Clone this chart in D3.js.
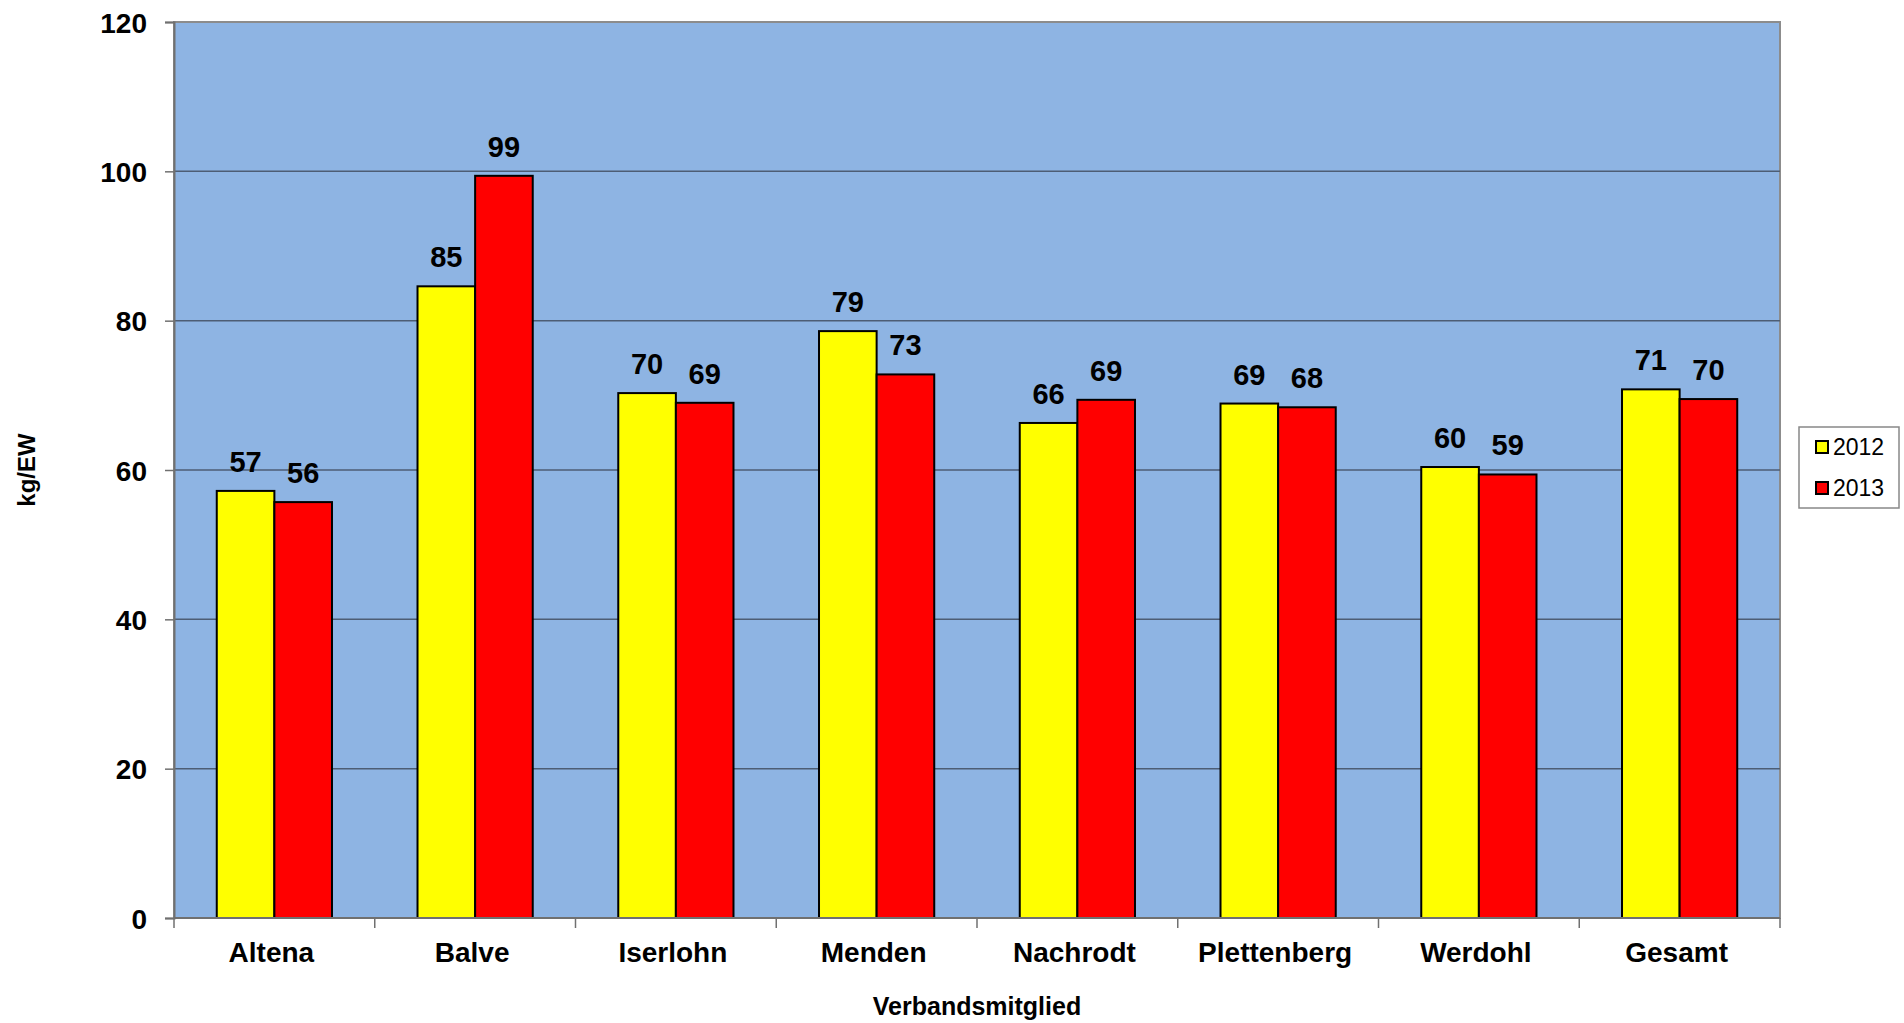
<!DOCTYPE html>
<meta charset="utf-8">
<style>
body { margin: 0; background: #fff; }
.chart text { font-family: "Liberation Sans", Arial, sans-serif; fill: #000; }
.axis text { font-size: 28px; font-weight: bold; }
</style>
<svg class="chart"></svg>
<script src="https://d3js.org/d3.v7.min.js"></script>
<script>

var categories = ["Altena", "Balve", "Iserlohn", "Menden", "Nachrodt", "Plettenberg", "Werdohl", "Gesamt"];
var series = ["2012", "2013"];
var values2012 = [57.2, 84.6, 70.3, 78.6, 66.3, 68.9, 60.4, 70.8];
var values2013 = [55.7, 99.4, 69.0, 72.8, 69.4, 68.4, 59.4, 69.5];
var yTicks = [0, 20, 40, 60, 80, 100, 120];
var colors = ["#FFFF00", "#FF0000"];

var W = 1904, H = 1023;
var margin = {top: 22, right: 124, bottom: 105, left: 174},
    width = W - margin.left - margin.right,
    height = H - margin.top - margin.bottom;

var svg = d3.select(".chart")
	.attr("width", W)
	.attr("height", H)

var chart = svg.append("g")
	.attr("transform", "translate(" + margin.left + "," + margin.top + ")")

var x = d3.scaleBand()
	.domain(categories)
	.range([0, width])

var x1 = d3.scaleBand()
	.domain(series)
	.range([x.bandwidth() * 0.213, x.bandwidth() * 0.787])

var y = d3.scaleLinear()
	.domain([0, 120])
	.range([height, 0])

// plot area
chart.append("rect")
	.attr("width", width)
	.attr("height", height)
	.attr("fill", "#8EB4E3")
	.attr("stroke", "#8c8c8c")
	.attr("stroke-width", 2)

// gridlines
chart.selectAll(".grid")
	.data(yTicks.slice(1, -1))
  .enter().append("line")
	.attr("x1", 0).attr("x2", width)
	.attr("y1", function(d) { return y(d); })
	.attr("y2", function(d) { return y(d); })
	.attr("stroke", "#4d5d74")
	.attr("stroke-width", 1.5)

var rows = categories.map(function(c, i) {
	return {cat: c, vals: [values2012[i], values2013[i]]};
});

var groups = chart.selectAll(".grp")
	.data(rows)
  .enter().append("g")
	.attr("transform", function(d) { return "translate(" + x(d.cat) + ",0)"; })

groups.selectAll("rect")
	.data(function(d) { return d.vals.map(function(v, j) { return {s: series[j], v: v, c: colors[j]}; }); })
  .enter().append("rect")
	.attr("x", function(d) { return x1(d.s); })
	.attr("width", x1.bandwidth())
	.attr("y", function(d) { return y(d.v); })
	.attr("height", function(d) { return height - y(d.v); })
	.attr("fill", function(d) { return d.c; })
	.attr("stroke", "#000")
	.attr("stroke-width", 2)

groups.selectAll(".lbl")
	.data(function(d) { return d.vals.map(function(v, j) { return {s: series[j], v: v}; }); })
  .enter().append("text")
	.attr("x", function(d) { return x1(d.s) + x1.bandwidth() / 2; })
	.attr("y", function(d) { return y(d.v) - 19; })
	.attr("text-anchor", "middle")
	.style("font-size", "29px")
	.style("font-weight", "bold")
	.text(function(d) { return Math.round(d.v); })

// axes
var yAxis = d3.axisLeft(y).tickValues(yTicks).tickSize(9).tickPadding(18);
chart.append("g")
	.attr("class", "y axis")
	.call(yAxis)
	.call(function(g) {
		g.select(".domain").attr("stroke", "#707070").attr("stroke-width", 2);
		g.selectAll(".tick line").attr("stroke", "#707070").attr("stroke-width", 1.5);
		g.selectAll("text").attr("dy", "0.36em");
	})

var xTickPos = d3.range(categories.length + 1).map(function(i) { return i * x.step(); });
var xg = chart.append("g")
	.attr("class", "x axis")
	.attr("transform", "translate(0," + height + ")")

xg.append("line")
	.attr("x1", 0).attr("x2", width)
	.attr("stroke", "#707070").attr("stroke-width", 2)

xg.selectAll(".xt")
	.data(xTickPos)
  .enter().append("line")
	.attr("x1", function(d) { return d; })
	.attr("x2", function(d) { return d; })
	.attr("y1", 0).attr("y2", 10)
	.attr("stroke", "#707070").attr("stroke-width", 1.5)

xg.selectAll(".xl")
	.data(categories)
  .enter().append("text")
	.attr("x", function(d) { return x(d) + x.bandwidth() / 2 - 3; })
	.attr("y", 44)
	.attr("text-anchor", "middle")
	.style("font-size", "28px")
	.style("font-weight", "bold")
	.text(function(d) { return d; })

// axis titles
svg.append("text")
	.attr("x", margin.left + width / 2)
	.attr("y", 1015)
	.attr("text-anchor", "middle")
	.style("font-size", "25px")
	.style("font-weight", "bold")
	.text("Verbandsmitglied")

svg.append("text")
	.attr("transform", "translate(35," + (margin.top + height / 2) + ") rotate(-90)")
	.attr("text-anchor", "middle")
	.style("font-size", "24px")
	.style("font-weight", "bold")
	.text("kg/EW")

// legend
var legend = svg.append("g")
	.attr("transform", "translate(1799,427)")

legend.append("rect")
	.attr("width", 100)
	.attr("height", 81)
	.attr("fill", "#fff")
	.attr("stroke", "#888")
	.attr("stroke-width", 1.5)

var li = legend.selectAll(".li")
	.data(series)
  .enter().append("g")
	.attr("transform", function(d, i) { return "translate(17," + (14 + i * 41) + ")"; })

li.append("rect")
	.attr("width", 12).attr("height", 12)
	.attr("fill", function(d, i) { return colors[i]; })
	.attr("stroke", "#000").attr("stroke-width", 2)

li.append("text")
	.attr("x", 17)
	.attr("y", 14)
	.style("font-size", "23px")
	.text(function(d) { return d; })

</script>
